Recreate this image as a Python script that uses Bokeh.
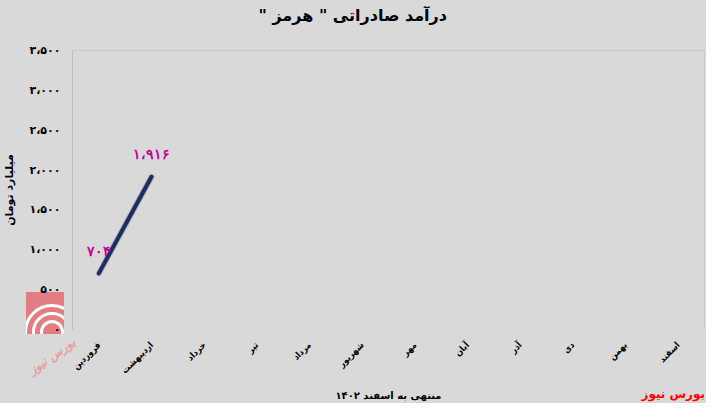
import math
from bokeh.plotting import figure
from bokeh.layouts import column
from bokeh.models import (FactorRange, Range1d, FixedTicker, LabelSet,
                          Span, ColumnDataSource, Title, Div)
from bokeh.embed import file_html
from bokeh.resources import INLINE

# ---- data ----
months = ["فروردین", "اردیبهشت", "خرداد", "تیر", "مرداد", "شهریور",
          "مهر", "آبان", "آذر", "دی", "بهمن", "اسفند"]
data_months = ["فروردین", "اردیبهشت"]
revenue = [704, 1916]
y_ticks = [0, 500, 1000, 1500, 2000, 2500, 3000, 3500]
title_text = 'درآمد صادراتی " هرمز "'
y_label = "میلیارد تومان"
x_label = "منتهی به اسفند ۱۴۰۲"
brand = "بورس نیوز"

FA = "۰۱۲۳۴۵۶۷۸۹"
RLM = "\u200f"


def fa_num(v):
    s = f"{int(v):,}".replace(",", "،")
    return "".join(FA[int(c)] if c.isdigit() else c for c in s)


FONT = "DejaVu Sans"
BG = "#d9d9d9"
W, H = 706, 403

p = figure(x_range=FactorRange(*months), y_range=Range1d(0, 3500),
           width=W, height=H, output_backend="svg", toolbar_location=None,
           min_border_left=70, min_border_right=2, min_border_top=49,
           min_border_bottom=74,
           background_fill_color=BG, border_fill_color=BG, border_fill_alpha=0,
           outline_line_color=None)

p.title = Title(text=RLM + title_text + RLM, align="left", offset=186,
                vertical_align="top",
                text_font=FONT, text_font_style="bold", text_font_size="16px",
                text_color="black")
p.add_layout(Title(text="\u00a0", text_font_size="7px"), "above")

p.xgrid.grid_line_color = None
p.ygrid.grid_line_color = None

p.add_layout(Span(location=3500, dimension="width", line_color="#bdbdbd", line_width=1))
p.add_layout(Span(location=12, dimension="height", line_color="#bdbdbd", line_width=1))

ya = p.yaxis[0]
ya.ticker = FixedTicker(ticks=y_ticks)
ya.major_label_overrides = {t: fa_num(t) for t in y_ticks}
ya.axis_line_color = "#bdbdbd"
ya.major_tick_line_color = None
ya.minor_tick_line_color = None
ya.major_tick_out = 0
ya.major_tick_in = 0
ya.minor_tick_out = 0
ya.major_label_text_font = FONT
ya.major_label_text_font_style = "bold"
ya.major_label_text_font_size = "11px"
ya.major_label_text_color = "black"
ya.major_label_standoff = 12
ya.axis_label = y_label
ya.axis_label_text_font = FONT
ya.axis_label_text_font_style = "bold"
ya.axis_label_text_font_size = "11px"
ya.axis_label_text_color = "black"
ya.axis_label_standoff = 10

xa = p.xaxis[0]
xa.axis_line_color = None
xa.major_tick_line_color = None
xa.minor_tick_line_color = None
xa.major_tick_out = 0
xa.major_tick_in = 0
xa.minor_tick_out = 0
xa.major_label_orientation = math.pi / 4
xa.major_label_text_font = "DejaVu Sans Condensed"
xa.major_label_text_font_style = "bold"
xa.major_label_text_font_size = "9px"
xa.major_label_text_color = "black"
xa.major_label_standoff = 14
xa.axis_label = x_label
xa.axis_label_text_font = FONT
xa.axis_label_text_font_style = "bold"
xa.axis_label_text_font_size = "10px"
xa.axis_label_text_color = "black"
xa.axis_label_standoff = 8

src = ColumnDataSource(dict(x=data_months, y=revenue,
                            lbl=[fa_num(v) for v in revenue]))
p.line("x", "y", source=src, line_color="#8a8a8a", line_width=6, line_alpha=0.5,
       line_cap="round")
p.line("x", "y", source=src, line_color="#1b2d63", line_width=4, line_cap="round")

p.add_layout(LabelSet(x="x", y="y", text="lbl", source=src, y_offset=22,
                      text_align="center", text_baseline="middle",
                      text_color="#c8009b", text_font=FONT,
                      text_font_style="bold", text_font_size="14px"))

# background sheet behind the figure: grey fill, watermark logo, brand
arcs = "".join(
    f'<div style="position:absolute;left:{26 - r}px;top:{40 - r}px;width:{2 * r}px;'
    f'height:{2 * r}px;border:3px solid #fff;border-radius:50%;box-sizing:border-box;"></div>'
    for r in (12, 20, 28))
html = (
    f'<div style="position:relative;width:{W}px;height:{H}px;background:{BG};'
    f'font-family:\'{FONT}\';overflow:hidden;">'
    f'<div style="position:absolute;left:26px;top:292px;width:38px;height:42px;'
    f'background:#e27d83;overflow:hidden;">{arcs}</div>'
    f'<div style="position:absolute;left:26px;top:348px;color:#eb9da1;font-size:12px;'
    f'font-style:italic;font-weight:bold;transform:rotate(-35deg);direction:rtl;">{brand}</div>'
    f'<div style="position:absolute;right:1px;top:387px;color:#ff0000;font-size:12px;'
    f'font-weight:bold;direction:rtl;line-height:14px;">{brand}</div>'
    f'</div>')
sheet = Div(text=html, width=W, height=H, margin=(0, 0, -H, 0))

layout = column(sheet, p, spacing=0)
open("out.html", "w").write(file_html(layout, INLINE))
